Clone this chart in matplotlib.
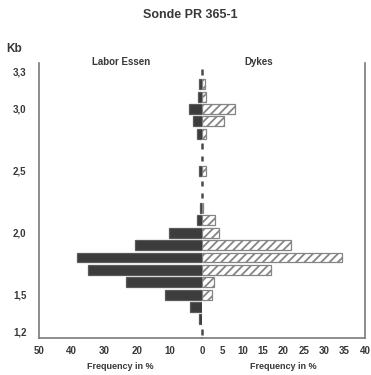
import numpy as np
import matplotlib
matplotlib.use("Agg")
import matplotlib.pyplot as plt

# ---- data ----
kb_bins = [3.3, 3.2, 3.1, 3.0, 2.9, 2.8, 2.7, 2.6, 2.5, 2.4, 2.3, 2.2, 2.1,
           2.0, 1.9, 1.8, 1.7, 1.6, 1.5, 1.4, 1.3, 1.2]
essen = [0, 1.0, 1.1, 3.9, 2.9, 1.4, 0, 0, 0.9, 0, 0, 0.7, 1.6,
         10.0, 20.6, 38.4, 34.9, 23.3, 11.3, 3.7, 0.8, 0]
dykes = [0, 0.8, 1.0, 8.2, 5.5, 1.0, 0, 0, 1.0, 0, 0, 0.3, 3.2,
         4.2, 21.8, 34.3, 16.9, 2.9, 2.4, 0, 0, 0]
left_ticks = [50, 40, 30, 20, 10]
right_ticks = [0, 5, 10, 15, 20, 25, 30, 35, 40]
y_ticks = [3.3, 3.0, 2.5, 2.0, 1.5, 1.2]
y_ticklabels = ["3,3", "3,0", "2,5", "2,0", "1,5", "1,2"]

title = "Sonde PR 365-1"
left_name = "Labor Essen"
right_name = "Dykes"
xlabel = "Frequency in %"

# ---- style ----
FONT = "Liberation Sans"
TXT = "#383838"
SPINE = "#7a7a7a"
plt.rcParams["font.family"] = [FONT, "DejaVu Sans"]
plt.rcParams["font.weight"] = "bold"
plt.rcParams["hatch.linewidth"] = 1.3

W, H = 371, 375
fig = plt.figure(figsize=(W / 100, H / 100), dpi=100)

x0, xc, x1 = 39, 202, 365
ytop, ybot = 63, 338
axL = fig.add_axes([x0 / W, 1 - ybot / H, (xc - x0) / W, (ybot - ytop) / H])
axR = fig.add_axes([xc / W, 1 - ybot / H, (x1 - xc) / W, (ybot - ytop) / H])

ylim = (1.15, 3.371)
bar_h = 0.08

kb = np.array(kb_bins)
e = np.array(essen, dtype=float)
d = np.array(dykes, dtype=float)

for ax in (axL, axR):
    ax.set_ylim(*ylim)
    ax.set_facecolor("none")
    for s in ax.spines.values():
        s.set_color(SPINE)
        s.set_linewidth(1.2)
    ax.spines["top"].set_visible(False)
    ax.tick_params(length=0, colors=TXT, labelsize=7)

axL.set_xlim(50, 0)
axR.set_xlim(0, 40)
axL.spines["right"].set_visible(False)
axR.spines["left"].set_visible(False)

me = e > 0
axL.barh(kb[me], e[me], height=bar_h, color="#3c3c3c", edgecolor="#5a5a5a",
         linewidth=0.9, zorder=3)
md = d > 0
axR.barh(kb[md], d[md], height=bar_h, color="white", edgecolor="#858585",
         hatch="////", linewidth=0.9, zorder=3)

# zero bins shown as short dashes on the centre line
mz = (e == 0) & (d == 0)
axR.vlines(np.zeros(mz.sum()), kb[mz] - 0.022, kb[mz] + 0.022,
           color="#4a4a4a", linewidth=1.8, zorder=4, clip_on=False)

axL.set_xticks(left_ticks, [str(t) for t in left_ticks])
axR.set_xticks(right_ticks, [str(t) for t in right_ticks])
axL.set_yticks(y_ticks, y_ticklabels)
axR.set_yticks([])
axL.tick_params(axis="y", pad=9, labelsize=7)
axL.tick_params(axis="x", pad=6)
axR.tick_params(axis="x", pad=6)

axL.set_xlabel(xlabel, fontsize=6.5, color=TXT, labelpad=4, fontweight="bold")
axR.set_xlabel(xlabel, fontsize=6.5, color=TXT, labelpad=4, fontweight="bold")

fig.text(190 / W, 1 - 15 / H, title, ha="center", va="center",
         fontsize=9, color=TXT, fontweight="bold")
fig.text(14 / W, 1 - 49 / H, "Kb", ha="center", va="center",
         fontsize=8.5, color=TXT, fontweight="bold")
fig.text(121 / W, 1 - 62 / H, left_name, ha="center", va="center",
         fontsize=7, color=TXT, fontweight="bold")
fig.text(259 / W, 1 - 62 / H, right_name, ha="center", va="center",
         fontsize=7, color=TXT, fontweight="bold")

fig.savefig("out.png", dpi=100, facecolor="white")
